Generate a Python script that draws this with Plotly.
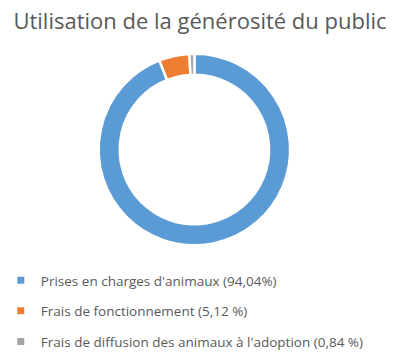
import plotly.graph_objects as go

labels = ["Prises en charges d'animaux", "Frais de fonctionnement", "Frais de diffusion des animaux à l'adoption"]
values = [94.04, 5.12, 0.84]
legend_texts = ["Prises en charges d'animaux (94,04%)", "Frais de fonctionnement (5,12 %)",
                "Frais de diffusion des animaux à l'adoption (0,84 %)"]
colors = ["#5B9BD5", "#ED7D31", "#A5A5A5"]
title = "Utilisation de la générosité du public"

fig = go.Figure()
fig.add_trace(go.Pie(
    labels=labels, values=values, sort=False, direction="clockwise", rotation=0,
    hole=0.78, marker=dict(colors=colors, line=dict(color="white", width=2.5)),
    textinfo="none", hoverinfo="label+percent", showlegend=False,
    domain=dict(x=[0.246, 0.726], y=[0.311, 0.849]),
))
for i, (t, c) in enumerate(zip(legend_texts, colors)):
    fig.add_trace(go.Scatter(
        x=[None], y=[None], mode="markers", name=t, legendgroup=f"g{i}",
        marker=dict(symbol="square", size=7, color=c),
    ))

fig.update_layout(
    width=400, height=357,
    margin=dict(l=0, r=0, t=0, b=0),
    paper_bgcolor="white", plot_bgcolor="white",
    title=dict(text=title, x=0.5, xanchor="center", y=0.94, yanchor="middle",
               font=dict(family="Open Sans", size=22, color="#595959")),
    xaxis=dict(visible=False), yaxis=dict(visible=False),
    legend=dict(x=0.002, xanchor="left", y=0.255, yanchor="top",
                font=dict(family="Open Sans", size=13.5, color="#595959"),
                tracegroupgap=10, bgcolor="rgba(0,0,0,0)"),
)
fig.write_html("out.html", config={"displayModeBar": False},
               post_script="document.body.style.margin='0';")
